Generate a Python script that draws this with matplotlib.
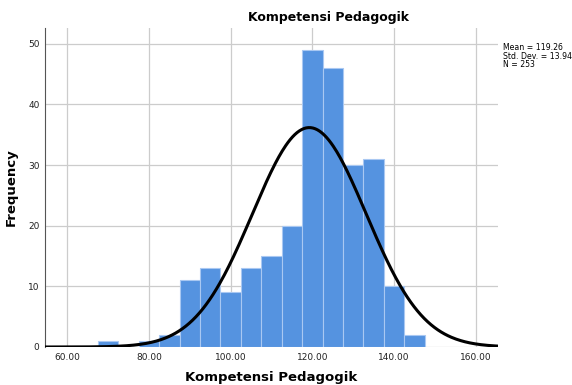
import numpy as np
import matplotlib.pyplot as plt

bin_centers = [70, 75, 80, 85, 90, 95, 100, 105, 110, 115, 120, 125, 130, 135, 140, 145]
counts = [1, 0, 1, 2, 11, 13, 9, 13, 15, 20, 49, 46, 30, 31, 10, 2]
bin_width = 5
mean = 119.26
std = 13.949
n = 253
x_ticks = [60, 80, 100, 120, 140, 160]
y_ticks = [0, 10, 20, 30, 40, 50]

fig = plt.figure(figsize=(5.72, 3.85), dpi=100)
ax = fig.add_axes([45 / 572, 1 - 347 / 385, (498 - 45) / 572, (347 - 28) / 385])

ax.bar(bin_centers, counts, width=bin_width, color='#5593e0', edgecolor='#a9c8f2',
       linewidth=0.8, zorder=2)

# normal curve scaled to counts
xs = np.linspace(54.5, 165.5, 400)
ys = n * bin_width / (std * np.sqrt(2 * np.pi)) * np.exp(-0.5 * ((xs - mean) / std) ** 2)
ax.plot(xs, ys, color='black', linewidth=2.2, zorder=3, solid_capstyle='butt')

ax.set_xlim(54.5, 165.5)
ax.set_ylim(0, 52.6)
ax.set_xticks(x_ticks)
ax.set_xticklabels([f"{t:.2f}" for t in x_ticks])
ax.set_yticks(y_ticks)
ax.tick_params(axis='both', length=0, labelsize=6.5, colors='#222222', pad=4)
ax.grid(True, color='#cccccc', linewidth=0.9, zorder=0)
ax.set_axisbelow(True)
for side in ['top', 'right', 'bottom']:
    ax.spines[side].set_visible(False)
ax.spines['left'].set_color('#555555')
ax.spines['left'].set_linewidth(0.8)

ax.set_xlabel('Kompetensi Pedagogik', fontsize=9.5, fontweight='bold', labelpad=7)
ax.set_ylabel('Frequency', fontsize=9.5, fontweight='bold', labelpad=7)

fig.text(329 / 572, 1 - 17 / 385, 'Kompetensi Pedagogik', fontsize=9, fontweight='bold',
         ha='center', va='center')
fig.text(503 / 572, 1 - 43 / 385, f"Mean = {mean}\nStd. Dev. = {std}\nN = {n}",
         fontsize=5.6, ha='left', va='top', linespacing=0.95)

fig.savefig('out.png', dpi=100)
